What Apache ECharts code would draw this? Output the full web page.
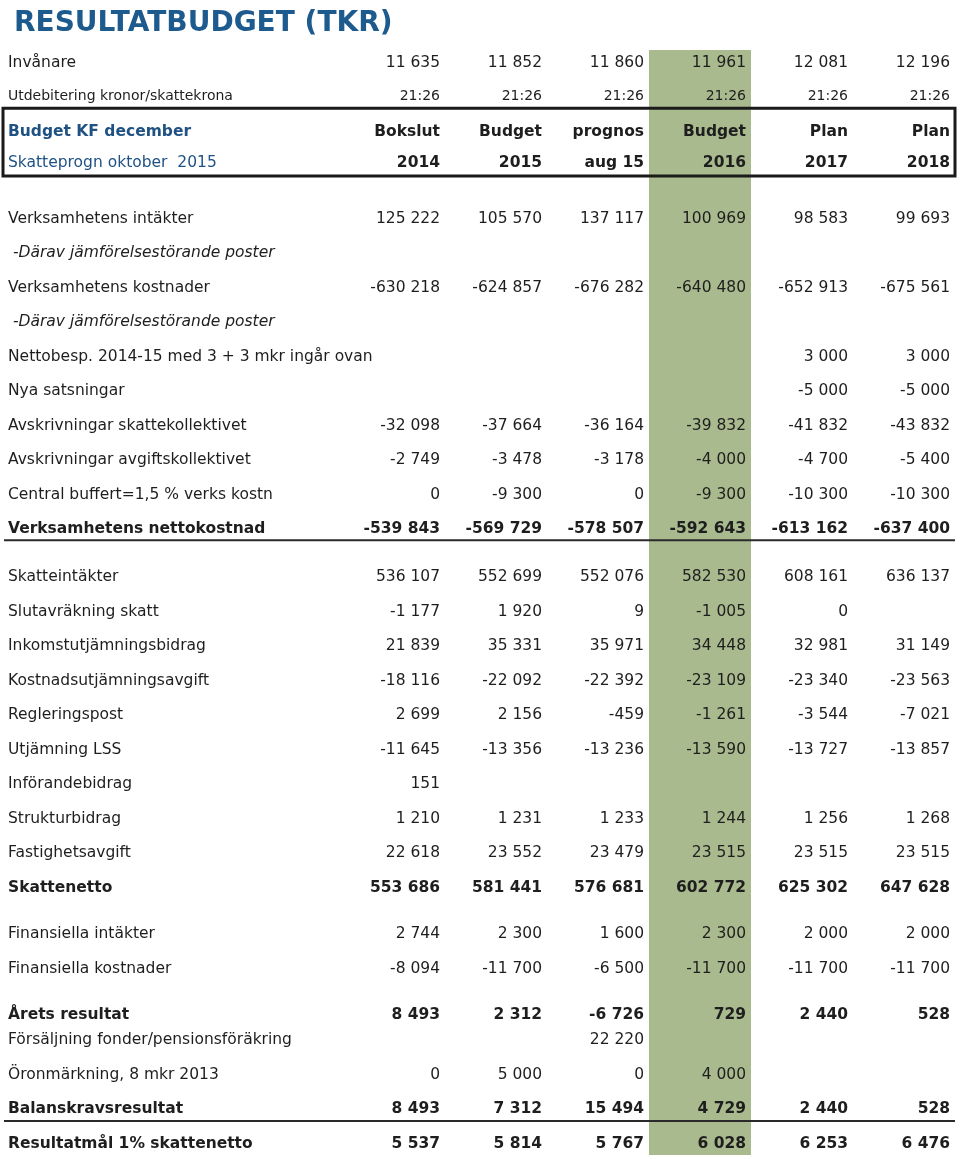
<!DOCTYPE html>
<html>
<head>
<meta charset="utf-8">
<script src="https://cdn.jsdelivr.net/npm/echarts@6/dist/echarts.min.js"></script>
<style>
  html, body { margin: 0; padding: 0; background: #fff; }
  #main { width: 960px; height: 1159px; }
</style>
</head>
<body>
<div id="main"></div>
<script>
// kolumner
var columns = ['Bokslut 2014', 'Budget 2015', 'prognos aug 15', 'Budget 2016', 'Plan 2017', 'Plan 2018'];
var headTop = ['Bokslut', 'Budget', 'prognos', 'Budget', 'Plan', 'Plan'];
var headBottom = ['2014', '2015', 'aug 15', '2016', '2017', '2018'];
var invanare = [11635, 11852, 11860, 11961, 12081, 12196];
var utdebitering = ['21:26', '21:26', '21:26', '21:26', '21:26', '21:26'];

// radtexter
var rowLabels = [
    'Invånare',
    'Utdebitering kronor/skattekrona',
    'Budget KF december',
    'Skatteprogn oktober  2015',
    'Verksamhetens intäkter',
    ' -Därav jämförelsestörande poster',
    'Verksamhetens kostnader',
    ' -Därav jämförelsestörande poster',
    'Nettobesp. 2014-15 med 3 + 3 mkr ingår ovan',
    'Nya satsningar',
    'Avskrivningar skattekollektivet',
    'Avskrivningar avgiftskollektivet',
    'Central buffert=1,5 % verks kostn',
    'Verksamhetens nettokostnad',
    'Skatteintäkter',
    'Slutavräkning skatt',
    'Inkomstutjämningsbidrag',
    'Kostnadsutjämningsavgift',
    'Regleringspost',
    'Utjämning LSS',
    'Införandebidrag',
    'Strukturbidrag',
    'Fastighetsavgift',
    'Skattenetto',
    'Finansiella intäkter',
    'Finansiella kostnader',
    'Årets resultat',
    'Försäljning fonder/pensionsföräkring',
    'Öronmärkning, 8 mkr 2013',
    'Balanskravsresultat',
    'Resultatmål 1% skattenetto'
];

// belopp per kolumn, från "Verksamhetens intäkter" och nedåt (null = tom cell)
var bokslut2014 = [125222, null, -630218, null, null, null, -32098, -2749, 0, -539843,
    536107, -1177, 21839, -18116, 2699, -11645, 151, 1210, 22618, 553686,
    2744, -8094, 8493, null, 0, 8493, 5537];
var budget2015 = [105570, null, -624857, null, null, null, -37664, -3478, -9300, -569729,
    552699, 1920, 35331, -22092, 2156, -13356, null, 1231, 23552, 581441,
    2300, -11700, 2312, null, 5000, 7312, 5814];
var prognos2015 = [137117, null, -676282, null, null, null, -36164, -3178, 0, -578507,
    552076, 9, 35971, -22392, -459, -13236, null, 1233, 23479, 576681,
    1600, -6500, -6726, 22220, 0, 15494, 5767];
var budget2016 = [100969, null, -640480, null, null, null, -39832, -4000, -9300, -592643,
    582530, -1005, 34448, -23109, -1261, -13590, null, 1244, 23515, 602772,
    2300, -11700, 729, null, 4000, 4729, 6028];
var plan2017 = [98583, null, -652913, null, 3000, -5000, -41832, -4700, -10300, -613162,
    608161, 0, 32981, -23340, -3544, -13727, null, 1256, 23515, 625302,
    2000, -11700, 2440, null, null, 2440, 6253];
var plan2018 = [99693, null, -675561, null, 3000, -5000, -43832, -5400, -10300, -637400,
    636137, null, 31149, -23563, -7021, -13857, null, 1268, 23515, 647628,
    2000, -11700, 528, null, null, 528, 6476];

// layout: avstånd före varje rad i radenheter
var rowGap = [0, 0.96, 1.04, 0.9, 1.62, 1, 1, 1, 1, 1, 1, 1, 1, 1,
    1.39, 1, 1, 1, 1, 1, 1, 1, 1, 1, 1.33, 1.01, 1.33, 0.75, 1.01, 0.99, 1.01];
var boldRows = [13, 23, 26, 29, 30];
var italicRows = [5, 7];
var highlightCol = 3;
var pitch = 34.5, firstRowY = 63, labelX = 8;
var fontFam = '"DejaVu Sans", Verdana, sans-serif';
var ink = '#1e1e1e';

var rowPos = [];
var acc = 0;
for (var i = 0; i < rowGap.length; i++) {
    acc += rowGap[i];
    rowPos.push(acc);
}

function fmt(n) {
    if (n === null || n === undefined) return '';
    var s = String(Math.abs(n)).replace(/\B(?=(\d{3})+(?!\d))/g, ' ');
    return (n < 0 ? '-' : '') + s;
}

var valueCols = [bokslut2014, budget2015, prognos2015, budget2016, plan2017, plan2018];

// bygg celler
var cells = [];
for (var r = 0; r < rowLabels.length; r++) {
    var font = '15.5px ' + fontFam;
    var color = ink;
    if (r === 1) font = '14px ' + fontFam;
    if (boldRows.indexOf(r) >= 0) font = 'bold 15.5px ' + fontFam;
    if (italicRows.indexOf(r) >= 0) font = 'italic 15.5px ' + fontFam;
    if (r === 2) { font = 'bold 15.5px ' + fontFam; color = '#1f5283'; }
    if (r === 3) color = '#1f5283';
    cells.push({ col: -1, row: r, text: rowLabels[r], font: font, color: color });
    for (var c = 0; c < columns.length; c++) {
        var t;
        if (r === 0) t = fmt(invanare[c]);
        else if (r === 1) t = utdebitering[c];
        else if (r === 2) t = headTop[c];
        else if (r === 3) t = headBottom[c];
        else t = fmt(valueCols[c][r - 4]);
        if (!t) continue;
        var f = font;
        if (r === 2 || r === 3) f = 'bold 15.5px ' + fontFam;
        cells.push({ col: c, row: r, text: t, font: f, color: ink });
    }
}

var chart = echarts.init(document.getElementById('main'));
var yMin = -firstRowY / pitch;
var yMax = yMin + 1159 / pitch;

var option = {
    animation: false,
    title: {
        text: 'RESULTATBUDGET (TKR)',
        left: 9,
        top: 5,
        textStyle: { color: '#1d5a8e', fontSize: 28, fontWeight: 'bold', fontFamily: fontFam }
    },
    grid: { left: 343, right: 5, top: 0, bottom: 0 },
    xAxis: { type: 'category', data: columns, show: false },
    yAxis: { type: 'value', inverse: true, min: yMin, max: yMax, show: false },
    series: [
        {
            // grön kolumn för budget 2016
            type: 'custom',
            data: [[highlightCol, 0]],
            silent: true,
            renderItem: function (params, api) {
                var w = api.size([1, 0])[0];
                var top = api.coord([api.value(0), rowPos[0] - 0.38]);
                var bot = api.coord([api.value(0), rowPos[rowPos.length - 1] + 0.31]);
                return {
                    type: 'rect',
                    shape: { x: top[0] - w / 2, y: top[1], width: w, height: bot[1] - top[1] },
                    style: { fill: '#a9ba8e' }
                };
            }
        },
        {
            // ram och linjer
            type: 'custom',
            data: [[0, 0]],
            silent: true,
            renderItem: function (params, api) {
                var cs = params.coordSys;
                var right = cs.x + cs.width;
                var bTop = api.coord([0, rowPos[1] + 0.35])[1];
                var bBot = api.coord([0, rowPos[3] + 0.375])[1];
                var l1 = api.coord([0, rowPos[13] + 0.31])[1];
                var l2 = api.coord([0, rowPos[29] + 0.34])[1];
                return {
                    type: 'group',
                    children: [
                        { type: 'rect', shape: { x: labelX - 5, y: bTop, width: right - labelX + 5, height: bBot - bTop },
                          style: { fill: 'none', stroke: '#1a1a1a', lineWidth: 3 } },
                        { type: 'line', shape: { x1: labelX - 4, y1: l1, x2: right, y2: l1 },
                          style: { stroke: '#2a2a2a', lineWidth: 2 } },
                        { type: 'line', shape: { x1: labelX - 4, y1: l2, x2: right, y2: l2 },
                          style: { stroke: '#2a2a2a', lineWidth: 2 } }
                    ]
                };
            }
        },
        {
            type: 'custom',
            data: cells.map(function (d) { return [d.col < 0 ? 0 : d.col, rowPos[d.row]]; }),
            silent: true,
            renderItem: function (params, api) {
                var d = cells[params.dataIndex];
                var p = api.coord([api.value(0), api.value(1)]);
                var w = api.size([1, 0])[0];
                var x = d.col < 0 ? labelX : p[0] + w / 2 - 5;
                return {
                    type: 'text',
                    x: x,
                    y: p[1],
                    style: {
                        text: d.text,
                        font: d.font,
                        fill: d.color,
                        align: d.col < 0 ? 'left' : 'right',
                        verticalAlign: 'middle'
                    }
                };
            }
        }
    ]
};

chart.setOption(option);
</script>
</body>
</html>
